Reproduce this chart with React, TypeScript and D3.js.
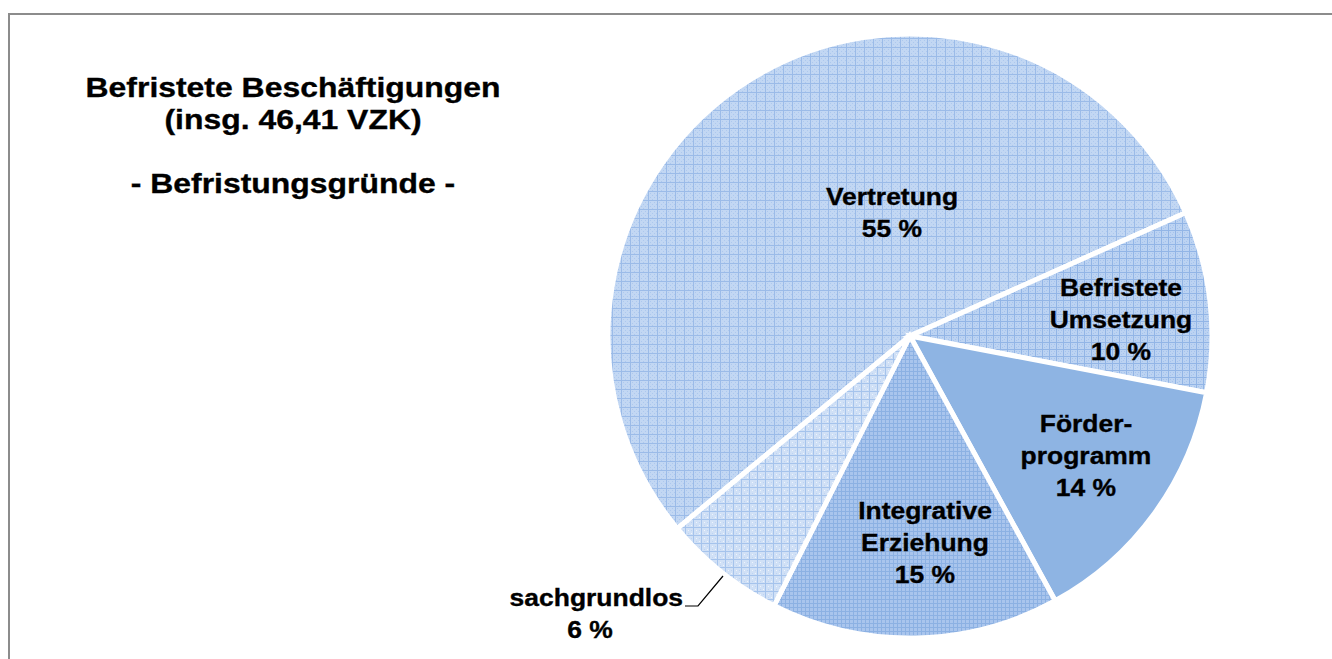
import React from "react";
import * as d3 from "d3";

// Data (VZK shares) and displayed labels
const categories = ["Vertretung", "Befristete Umsetzung", "Förderprogramm", "Integrative Erziehung", "sachgrundlos"];
const values = [25.2, 4.5, 6.5, 7.15, 3.05];
const percentLabels = ["55 %", "10 %", "14 %", "15 %", "6 %"];
const labelLines = [["Vertretung"], ["Befristete", "Umsetzung"], ["Förder-", "programm"], ["Integrative", "Erziehung"], ["sachgrundlos"]];
const titleLines = ["Befristete Beschäftigungen", "(insg. 46,41 VZK)", "", "- Befristungsgründe -"];

const W = 1332, H = 659;
const cx = 910, cy = 336, R = 302;
const startDeg = 230.4;

const fillIds = ["pVert", "pUms", "pFoerd", "pInteg", "pSach"];

const labelPos: [number, number][] = [
  [892, 205],
  [1121, 296],
  [1086, 432],
  [925, 519],
];

export default function App() {
  const pie = d3
    .pie<number>()
    .sort(null)
    .value((d) => d)
    .startAngle((startDeg * Math.PI) / 180)
    .endAngle(((startDeg + 360) * Math.PI) / 180);
  const arcs = pie(values);
  const arc = d3.arc<d3.PieArcDatum<number>>().innerRadius(0).outerRadius(R);

  const font = "'Liberation Sans', Arial, sans-serif";
  const lh = 32;

  const textBlock = (lines: string[], x: number, y: number, size: number, sx: number, key: string, anchor = "middle") => (
    <g key={key}>
      {lines.map((t, i) =>
        t ? (
          <text
            key={i}
            transform={`translate(${x},${y + i * lh}) scale(${sx},1)`}
            textAnchor={anchor}
            fontFamily={font}
            fontWeight="bold"
            fontSize={size}
            fill="#000"
            stroke="#000"
            strokeWidth={0.35}
          >
            {t}
          </text>
        ) : null
      )}
    </g>
  );

  return (
    <svg width={W} height={H} style={{ position: "absolute", left: 0, top: 0, background: "#fff" }}>
      <defs>
        <pattern id="pVert" width="9" height="9" patternUnits="userSpaceOnUse">
          <rect width="9" height="9" fill="#c2d7f3" />
          <rect x="1" y="1" width="1" height="1" fill="#adc8ee" />
          <rect x="3" y="3" width="1" height="1" fill="#adc8ee" />
          <rect x="5" y="1" width="1" height="1" fill="#adc8ee" />
          <rect x="1" y="5" width="1" height="1" fill="#adc8ee" />
          <rect x="5" y="5" width="1" height="1" fill="#adc8ee" />
          <rect x="3" y="7" width="1" height="1" fill="#adc8ee" />
          <rect x="7" y="3" width="1" height="1" fill="#adc8ee" />
          <rect x="8" y="0" width="1" height="9" fill="#9bbbe8" />
          <rect x="0" y="8" width="9" height="1" fill="#9bbbe8" />
        </pattern>
        <pattern id="pUms" width="7" height="7" patternUnits="userSpaceOnUse">
          <rect width="7" height="7" fill="#bcd3f2" />
          <rect x="1" y="1" width="1" height="1" fill="#a6c3ed" />
          <rect x="3" y="3" width="1" height="1" fill="#a6c3ed" />
          <rect x="1" y="4" width="1" height="1" fill="#a6c3ed" />
          <rect x="4" y="1" width="1" height="1" fill="#a6c3ed" />
          <rect x="6" y="0" width="1" height="7" fill="#92b5e6" />
          <rect x="0" y="6" width="7" height="1" fill="#92b5e6" />
        </pattern>
        <pattern id="pFoerd" width="4" height="4" patternUnits="userSpaceOnUse">
          <rect width="4" height="4" fill="#8eb4e3" />
        </pattern>
        <pattern id="pInteg" width="4" height="4" patternUnits="userSpaceOnUse">
          <rect width="4" height="4" fill="#a9c5ed" />
          <rect x="3" y="0" width="1" height="4" fill="#8cb1e3" />
          <rect x="0" y="3" width="4" height="1" fill="#8cb1e3" />
        </pattern>
        <pattern id="pSach" width="8" height="8" patternUnits="userSpaceOnUse">
          <rect width="8" height="8" fill="#d0e0f6" />
          <rect x="2" y="2" width="1" height="1" fill="#eef4fc" />
          <rect x="5" y="5" width="1" height="1" fill="#eef4fc" />
          <rect x="2" y="5" width="1" height="1" fill="#bdd3f2" />
          <rect x="5" y="2" width="1" height="1" fill="#bdd3f2" />
          <rect x="7" y="0" width="1" height="8" fill="#a5c3ec" />
          <rect x="0" y="7" width="8" height="1" fill="#a5c3ec" />
        </pattern>
      </defs>

      <rect x={9} y={14} width={1400} height={800} fill="#fff" stroke="#8c8c8c" strokeWidth={2} />

      <g transform={`translate(${cx},${cy})`}>
        {arcs.map((a, i) => (
          <path key={categories[i]} d={arc(a) || ""} fill={`url(#${fillIds[i]})`} stroke="#fff" strokeWidth={5} strokeLinejoin="miter" />
        ))}
      </g>

      {textBlock(titleLines, 293, 97, 28.5, 1.12, "title")}

      {labelPos.map((p, i) => textBlock([...labelLines[i], percentLabels[i]], p[0], p[1], 24.5, 1.08, categories[i]))}

      {textBlock(labelLines[4], 683, 606, 24.5, 1.08, "sach", "end")}
      {textBlock([percentLabels[4]], 590, 638, 24.5, 1.08, "sachPct")}
      <polyline points="685,606 698,606 723,576" fill="none" stroke="#000" strokeWidth={1.2} />
    </svg>
  );
}
